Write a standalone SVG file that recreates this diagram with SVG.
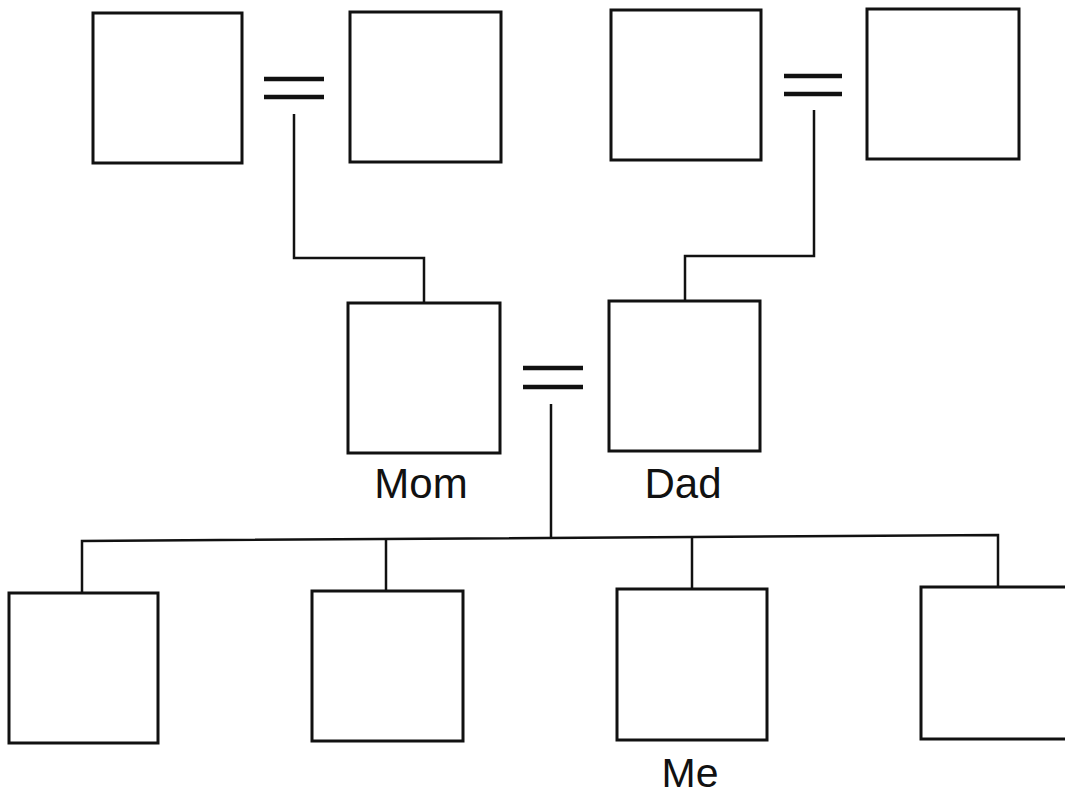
<svg xmlns="http://www.w3.org/2000/svg" width="1065" height="796" viewBox="0 0 1065 796">
<style>
.box{fill:#fff;stroke:#111;stroke-width:3}
.ln{fill:none;stroke:#111;stroke-width:2.5;stroke-linejoin:miter}
.eq{stroke:#111;stroke-width:4.5}
.lbl{font-family:"Liberation Sans",Arial,sans-serif;font-size:42px;fill:#111;text-anchor:middle}
</style>
<rect width="1065" height="796" fill="#fff"/>
<g id="connectors">
<path class="ln" d="M294,114 V258 H424 V303"/>
<path class="ln" d="M814,110 V256 H685 V301"/>
<path class="ln" d="M551,404 V538"/>
<path class="ln" d="M82,593 V541 L998,535 V587"/>
<path class="ln" d="M386,539.5 V591"/>
<path class="ln" d="M692,537.5 V589"/>
</g>
<g id="marriage-1"><line class="eq" x1="264" y1="79" x2="324" y2="79"/><line class="eq" x1="264" y1="97" x2="324" y2="97"/></g>
<g id="marriage-2"><line class="eq" x1="784" y1="76" x2="842" y2="76"/><line class="eq" x1="784" y1="94" x2="842" y2="94"/></g>
<g id="marriage-3"><line class="eq" x1="523" y1="368" x2="583" y2="368"/><line class="eq" x1="523" y1="387" x2="583" y2="387"/></g>
<g id="gp1"><rect class="box" x="93" y="13" width="149" height="150"/></g>
<g id="gp2"><rect class="box" x="350" y="12" width="151" height="150"/></g>
<g id="gp3"><rect class="box" x="611" y="10" width="150" height="150"/></g>
<g id="gp4"><rect class="box" x="867" y="9" width="152" height="150"/></g>
<g id="mom"><rect class="box" x="348" y="303" width="152" height="150"/><text class="lbl" x="421" y="498">Mom</text></g>
<g id="dad"><rect class="box" x="609" y="301" width="151" height="150"/><text class="lbl" x="683" y="498">Dad</text></g>
<g id="child1"><rect class="box" x="9" y="593" width="149" height="150"/></g>
<g id="child2"><rect class="box" x="312" y="591" width="151" height="150"/></g>
<g id="me"><rect class="box" x="617" y="589" width="150" height="151"/><text class="lbl" x="690" y="787" style="font-size:41px">Me</text></g>
<g id="child4"><rect class="box" x="921" y="587" width="160" height="152"/></g>
</svg>
